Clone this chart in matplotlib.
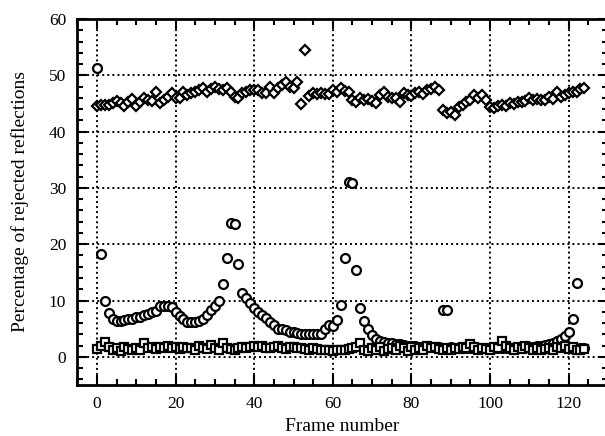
import matplotlib
matplotlib.use("Agg")
import matplotlib.pyplot as plt
from matplotlib.ticker import MultipleLocator

frames = list(range(125))

# rejected reflections, upper band (diamonds)
diamond_vals = [
    44.6, 44.7, 44.8, 44.8, 45.0, 45.4, 45.1, 44.5, 45.3, 45.8,
    44.5, 45.2, 45.9, 45.6, 45.5, 47.1, 45.0, 45.6, 46.2, 46.8,
    46.0, 45.9, 47.1, 46.5, 46.8, 47.1, 47.4, 47.7, 47.1, 47.5,
    48.0, 47.6, 47.4, 47.8, 47.1, 46.2, 45.9, 46.8, 47.1, 47.4,
    47.4, 47.4, 46.8, 46.8, 48.0, 46.8, 47.7, 48.3, 48.9, 48.0,
    47.7, 48.8, 44.9, 54.5, 46.4, 46.9, 46.7, 46.8, 46.6, 46.7,
    47.4, 47.0, 47.7, 47.3, 47.1, 45.6, 45.3, 45.9, 45.6, 45.8,
    45.5, 45.0, 46.5, 47.1, 46.2, 45.9, 46.0, 45.3, 46.8, 46.5,
    46.3, 46.8, 47.1, 46.7, 47.4, 47.6, 48.0, 47.4, 43.8, 43.3,
    43.4, 42.9, 44.3, 44.8, 45.2, 45.7, 46.5, 45.9, 46.5, 45.7,
    44.4, 44.2, 44.5, 44.7, 44.6, 45.0, 44.9, 45.3, 45.2, 45.5,
    45.9, 45.7, 45.8, 45.6, 45.6, 46.2, 45.8, 47.1, 46.2, 46.5,
    46.8, 47.0, 47.1, 47.5, 47.7,
]

# rejected reflections, middle curve (circles)
circle_vals = [
    51.3, 18.3, 9.9, 7.8, 6.7, 6.4, 6.4, 6.5, 6.7, 6.8,
    7.0, 7.1, 7.4, 7.6, 7.9, 8.2, 9.0, 9.1, 9.1, 8.8,
    7.9, 7.3, 6.7, 6.1, 6.1, 6.1, 6.4, 6.8, 7.5, 8.3,
    9.0, 9.9, 12.9, 17.5, 23.8, 23.6, 16.5, 11.4, 10.4, 9.5,
    8.7, 8.0, 7.5, 6.9, 6.2, 5.6, 5.0, 4.9, 4.7, 4.5,
    4.4, 4.2, 4.0, 4.0, 4.0, 4.0, 4.0, 4.0, 4.9, 5.6,
    5.5, 6.5, 9.2, 17.6, 31.0, 30.8, 15.5, 8.6, 6.4, 4.9,
    3.8, 3.1, 2.9, 2.6, 2.5, 2.4, 2.3, 2.2, 2.1, 2.0,
    2.0, 1.9, 1.8, 1.8, 1.8, 1.7, 1.7, 1.7, 8.3, 8.3,
    1.7, 1.6, 1.6, 1.6, 1.6, 1.6, 1.6, 1.6, 1.6, 1.6,
    1.6, 1.6, 1.6, 1.6, 1.6, 1.6, 1.6, 1.6, 1.7, 1.7,
    1.8, 1.8, 1.9, 2.0, 2.1, 2.2, 2.5, 2.8, 3.1, 3.7,
    4.4, 6.7, 13.1, 1.6, 1.5,
]

# rejected reflections, lower band (squares)
square_vals = [
    1.4, 2.0, 2.6, 1.7, 1.3, 1.5, 1.1, 1.8, 1.4, 1.2,
    1.6, 1.3, 2.4, 1.5, 1.7, 1.4, 1.8, 1.6, 1.9, 1.5,
    1.7, 1.4, 1.8, 1.6, 1.5, 1.3, 1.9, 1.6, 1.4, 2.1,
    1.5, 1.3, 2.4, 1.6, 1.4, 1.2, 1.5, 1.7, 1.6, 1.8,
    2.0, 1.8, 1.9, 1.6, 1.5, 1.7, 2.0, 1.6, 1.4, 1.8,
    1.7, 1.5, 1.6, 1.4, 1.3, 1.5, 1.4, 1.2, 1.3, 1.2,
    1.1, 1.2, 1.2, 1.3, 1.4, 1.5, 1.7, 2.4, 1.3, 1.1,
    1.5, 1.2, 1.8, 1.0, 1.4, 1.6, 1.2, 1.9, 1.5, 1.1,
    1.7, 1.3, 1.5, 1.2, 1.9, 1.6, 1.8, 1.4, 1.2, 1.6,
    1.3, 1.5, 1.4, 1.7, 1.5, 2.2, 1.8, 1.3, 1.6, 1.4,
    1.2, 1.7, 1.5, 2.8, 1.9, 1.6, 1.3, 1.8, 1.4, 2.0,
    1.6, 1.3, 1.5, 1.2, 1.4, 1.6, 1.3, 1.8, 1.5, 1.9,
    1.4, 1.7, 1.2, 1.3, 1.4,
]

plt.rcParams["font.family"] = ["Liberation Serif", "DejaVu Serif"]

fig = plt.figure(figsize=(6.05, 4.36), dpi=100)
ax = fig.add_axes([77.3 / 605, 1 - 385 / 436, (608 - 77.3) / 605, (385 - 19) / 436])

mk = dict(linestyle="none", markerfacecolor="white", markeredgecolor="black",
          markeredgewidth=1.6)
ax.plot(frames, diamond_vals, marker="D", markersize=5.4, **mk, zorder=3)
ax.plot(frames, circle_vals, marker="o", markersize=6.4, **mk, zorder=3)
ax.plot(frames, square_vals, marker="s", markersize=5.2, **mk, zorder=4)

ax.set_xlim(-5, 130)
ax.set_ylim(-5, 60)
ax.xaxis.set_major_locator(MultipleLocator(20))
ax.xaxis.set_minor_locator(MultipleLocator(5))
ax.yaxis.set_major_locator(MultipleLocator(10))
ax.yaxis.set_minor_locator(MultipleLocator(2))
ax.set_xticks([0, 20, 40, 60, 80, 100, 120])
ax.set_xticklabels(["0", "20", "40", "60", "80", "100", "120"])

ax.tick_params(which="both", direction="in", top=True, right=True,
               colors="black", labelsize=12.5, width=1.5)
ax.tick_params(which="major", length=7, pad=8)
ax.tick_params(which="minor", length=4)

ax.grid(True, which="major", color="black", linestyle=(0, (1, 1.6)),
        linewidth=1.4)
ax.set_axisbelow(True)
for s in ax.spines.values():
    s.set_linewidth(2)

ax.set_xlabel("Frame number", fontsize=14, labelpad=4)
ax.set_ylabel("Percentage of rejected reflections", fontsize=14, labelpad=14)

fig.savefig("out.png", dpi=100)
